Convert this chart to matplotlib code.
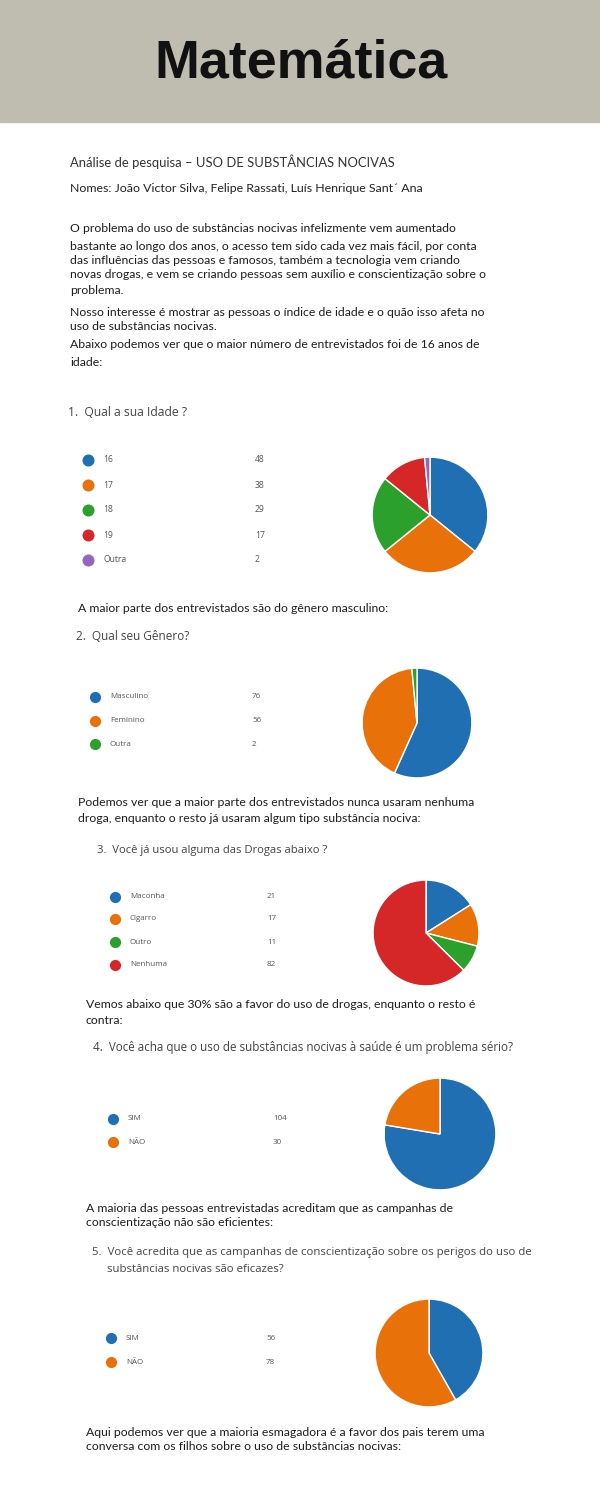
import matplotlib
matplotlib.use("Agg")
import matplotlib.pyplot as plt

# =========================
# DATA
# =========================
title = "Matemática"
subtitle = "Análise de pesquisa – USO DE SUBSTÂNCIAS NOCIVAS"
names = "Nomes: João Victor Silva, Felipe Rassati, Luís Henrique Sant´ Ana"

intro_lines = [
    "O problema do uso de substâncias nocivas infelizmente vem aumentado",
    "bastante ao longo dos anos, o acesso tem sido cada vez mais fácil, por conta",
    "das influências das pessoas e famosos, também a tecnologia vem criando",
    "novas drogas, e vem se criando pessoas sem auxílio e conscientização sobre o",
    "problema.",
]
interest_lines = [
    "Nosso interesse é mostrar as pessoas o índice de idade e o quão isso afeta no",
    "uso de substâncias nocivas.",
]
abaixo_lines = [
    "Abaixo podemos ver que o maior número de entrevistados foi de 16 anos de",
    "idade:",
]

q1_title = "1.  Qual a sua Idade ?"
q1_labels = ["16", "17", "18", "19", "Outra"]
q1_values = [48, 38, 29, 17, 2]

q2_intro = ["A maior parte dos entrevistados são do gênero masculino:"]
q2_title = "2.  Qual seu Gênero?"
q2_labels = ["Masculino", "Feminino", "Outra"]
q2_values = [76, 56, 2]

q3_intro = ["Podemos ver que a maior parte dos entrevistados nunca usaram nenhuma",
            "droga, enquanto o resto já usaram algum tipo substância nociva:"]
q3_title = "3.  Você já usou alguma das Drogas abaixo ?"
q3_labels = ["Maconha", "Cigarro", "Outro", "Nenhuma"]
q3_values = [21, 17, 11, 82]

q4_intro = ["Vemos abaixo que 30% são a favor do uso de drogas, enquanto o resto é",
            "contra:"]
q4_title = "4.  Você acha que o uso de substâncias nocivas à saúde é um problema sério?"
q4_labels = ["SIM", "NÃO"]
q4_values = [104, 30]

q5_intro = ["A maioria das pessoas entrevistadas acreditam que as campanhas de",
            "conscientização não são eficientes:"]
q5_title = ["5.  Você acredita que as campanhas de conscientização sobre os perigos do uso de",
            "     substâncias nocivas são eficazes?"]
q5_labels = ["SIM", "NÃO"]
q5_values = [56, 78]

outro_lines = ["Aqui podemos ver que a maioria esmagadora é a favor dos pais terem uma",
               "conversa com os filhos sobre o uso de substâncias nocivas:"]

pie_colors = ["#1f6fb2", "#e8710a", "#2ca02c", "#d62728", "#9467bd"]

# =========================
# FIGURE
# =========================
W, H = 600, 1500
fig = plt.figure(figsize=(6, 15), dpi=100)
fig.patch.set_facecolor("white")
ax = fig.add_axes([0, 0, 1, 1])
ax.set_xlim(0, W)
ax.set_ylim(H, 0)
ax.axis("off")

body_font = ["Lato", "DejaVu Sans"]
form_font = ["Open Sans", "DejaVu Sans"]

# header band
ax.add_patch(plt.Rectangle((0, 0), W, 122, color="#bebdb0", zorder=0))
ax.text(301, 63, title, ha="center", va="center", fontsize=38.7,
        fontweight="bold", family=["Liberation Sans", "DejaVu Sans"], color="#111111")

ax.text(70, 162, subtitle, fontsize=9.4, va="center", family=body_font, color="#333333")
ax.text(70, 189, names, fontsize=8.9, va="center", family=body_font, color="#222222")


def lines(x, ys, txts, size=8.8, color="#1e1e1e", font=body_font):
    for y, t in zip(ys, txts):
        ax.text(x, y, t, fontsize=size, va="center", family=font, color=color)


lines(70, [228, 247, 261, 275, 290], intro_lines)
lines(70, [312, 326], interest_lines)
lines(70, [345, 362], abaixo_lines)


def legend(cx, ys, labels, values, vx, size=6.2, s=75):
    for i, (y, lab, v) in enumerate(zip(ys, labels, values)):
        ax.scatter([cx], [y], s=s, color=pie_colors[i], zorder=3, linewidths=0)
        ax.text(cx + 15, y, lab, fontsize=size, va="center", family=form_font, color="#555555")
        ax.text(vx, y, str(v), fontsize=size, va="center", family=form_font, color="#555555")


def pie(cx, cy, r, values):
    pax = fig.add_axes([(cx - r) / W, 1 - (cy + r) / H, 2 * r / W, 2 * r / H])
    pax.pie(values, colors=pie_colors[:len(values)], startangle=90, counterclock=False,
            wedgeprops=dict(edgecolor="white", linewidth=1.0))
    pax.set_xlim(-1.02, 1.02)
    pax.set_ylim(-1.02, 1.02)
    pax.axis("off")


# question 1
ax.text(68, 413, q1_title, fontsize=8.7, va="center", family=form_font, color="#444444")
legend(88, [460, 485, 510, 535, 560], q1_labels, q1_values, 255)
pie(430, 515, 59, q1_values)

# question 2
lines(78, [608], q2_intro)
ax.text(76, 637, q2_title, fontsize=8.5, va="center", family=form_font, color="#444444")
legend(95, [697, 721, 744], q2_labels, q2_values, 252, size=5.8, s=65)
pie(417, 723, 56, q2_values)

# question 3
lines(78, [803, 818], q3_intro)
ax.text(97, 851, q3_title, fontsize=8.1, va="center", family=form_font, color="#444444")
legend(115, [897, 919, 942, 965], q3_labels, q3_values, 267, size=5.8, s=65)
pie(426, 933, 54, q3_values)

# question 4
lines(86, [1005, 1020], q4_intro)
ax.text(93, 1047, q4_title, fontsize=8.4, va="center", family=form_font, color="#444444")
legend(113, [1119, 1142], q4_labels, q4_values, 273, size=5.8, s=65)
pie(440, 1134, 57, q4_values)

# question 5
lines(86, [1208, 1223], q5_intro)
ax.text(92, 1253, q5_title[0], fontsize=8.2, va="center", family=form_font, color="#444444")
ax.text(92, 1269, q5_title[1], fontsize=8.2, va="center", family=form_font, color="#444444")
legend(111, [1338, 1362], q5_labels, q5_values, 266, size=5.8, s=65)
pie(429, 1353, 55, q5_values)

lines(86, [1432, 1446], outro_lines)

fig.savefig("out.png", dpi=100, facecolor="white")
